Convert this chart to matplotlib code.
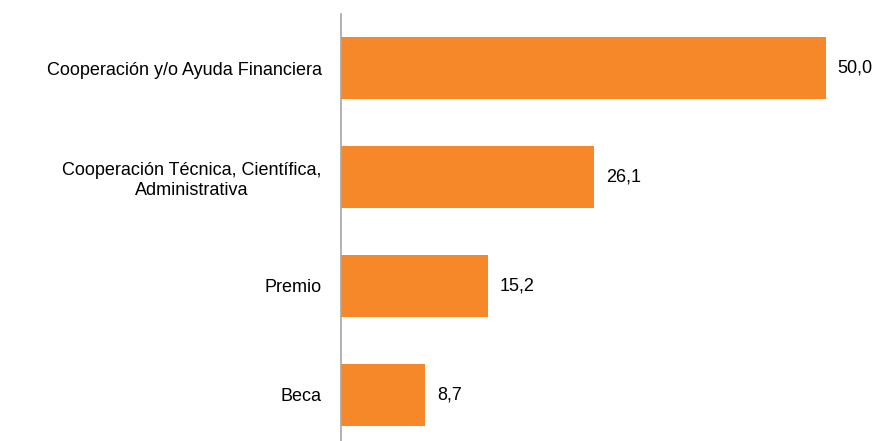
import matplotlib
matplotlib.use("Agg")
import matplotlib.pyplot as plt

categories = ["Cooperación y/o Ayuda Financiera",
              "Cooperación Técnica, Científica,\nAdministrativa",
              "Premio",
              "Beca"]
values = [50.0, 26.1, 15.2, 8.7]
value_labels = ["50,0", "26,1", "15,2", "8,7"]

plt.rcParams['font.family'] = ['Liberation Sans', 'DejaVu Sans']

fig = plt.figure(figsize=(8.8, 4.41), dpi=100)
ax = fig.add_axes([341/880, 1 - 449/441, 533.5/880, 435/441])

y = list(range(len(categories)))
ax.barh(y, values, height=0.57, color='#F6882A')
ax.set_ylim(3.5, -0.5)
ax.set_xlim(0, 55)

for yi, v, lab in zip(y, values, value_labels):
    ax.text(v + 1.2, yi, lab, va='center', ha='left', fontsize=13, color='black')

ax.set_yticks(y)
ax.set_yticklabels(categories, fontsize=13, multialignment='center')
ax.tick_params(axis='y', length=0, pad=14)
ax.set_xticks([])
for s in ['top', 'right', 'bottom']:
    ax.spines[s].set_visible(False)
ax.spines['left'].set_color('#A6A6A6')
ax.spines['left'].set_linewidth(1.2)

fig.savefig("out.png", dpi=100)
